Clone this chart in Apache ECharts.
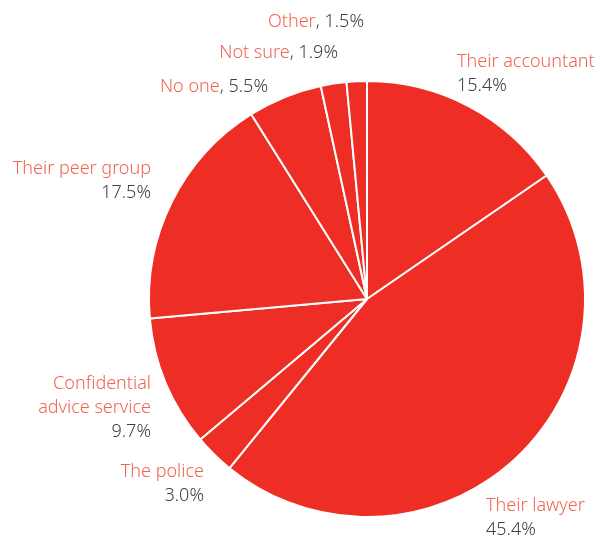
<!DOCTYPE html>
<html>
<head>
<meta charset="utf-8">
<style>
  html, body { margin: 0; padding: 0; background: #ffffff; }
  #chart { width: 603px; height: 538px; }
</style>
<script src="https://cdn.jsdelivr.net/npm/echarts@6/dist/echarts.min.js"></script>
</head>
<body>
<div id="chart"></div>
<script>
// Who people turn to for advice (share of respondents, %)
const categories = [
  'Their accountant',
  'Their lawyer',
  'The police',
  'Confidential\nadvice service',
  'Their peer group',
  'No one',
  'Not sure',
  'Other'
];
const shares = [15.4, 45.4, 3.0, 9.7, 17.5, 5.5, 1.9, 1.5];
// categories whose label sits on one line as "Name, value%"
const inlineLabels = ['No one', 'Not sure', 'Other'];

// label anchor for each slice: horizontal anchor x, top of text block y, alignment
const labelPlacement = [
  { x: 457, y: 50, align: 'left' },
  { x: 486, y: 494, align: 'left' },
  { x: 204, y: 460, align: 'right' },
  { x: 151, y: 372, align: 'right' },
  { x: 151, y: 157, align: 'right' },
  { x: 268, y: 75, align: 'right' },
  { x: 338, y: 41, align: 'right' },
  { x: 364, y: 10, align: 'right' }
];

const FONT = 'Noto Sans';
const chart = echarts.init(document.getElementById('chart'));

chart.setOption({
  animation: false,
  series: [{
    type: 'pie',
    center: [367, 299],
    radius: 218,
    startAngle: 90,
    clockwise: true,
    avoidLabelOverlap: false,
    itemStyle: { color: '#EE2E24', borderColor: '#ffffff', borderWidth: 2 },
    labelLine: { show: false, length: 10, length2: 0 },
    label: {
      show: true,
      position: 'outside',
      fontFamily: FONT,
      fontSize: 18,
      lineHeight: 24,
      formatter: p => {
        const v = p.value.toFixed(1) + '%';
        if (inlineLabels.includes(p.name)) return '{n|' + p.name + '}{v|, ' + v + '}';
        return p.name.split('\n').map(s => '{n|' + s + '}').join('\n') + '\n{v|' + v + '}';
      },
      rich: {
        n: { color: '#F26452', fontFamily: FONT, fontSize: 18, fontWeight: 300, lineHeight: 24 },
        v: { color: '#404040', fontFamily: FONT, fontSize: 18, fontWeight: 300, lineHeight: 24 }
      }
    },
    labelLayout: p => {
      const pl = labelPlacement[p.dataIndex];
      return { x: pl.x, y: pl.y, align: pl.align, verticalAlign: 'top', hideOverlap: false };
    },
    emphasis: { disabled: true },
    data: categories.map((c, i) => ({ name: c, value: shares[i] }))
  }]
});
</script>
</body>
</html>
